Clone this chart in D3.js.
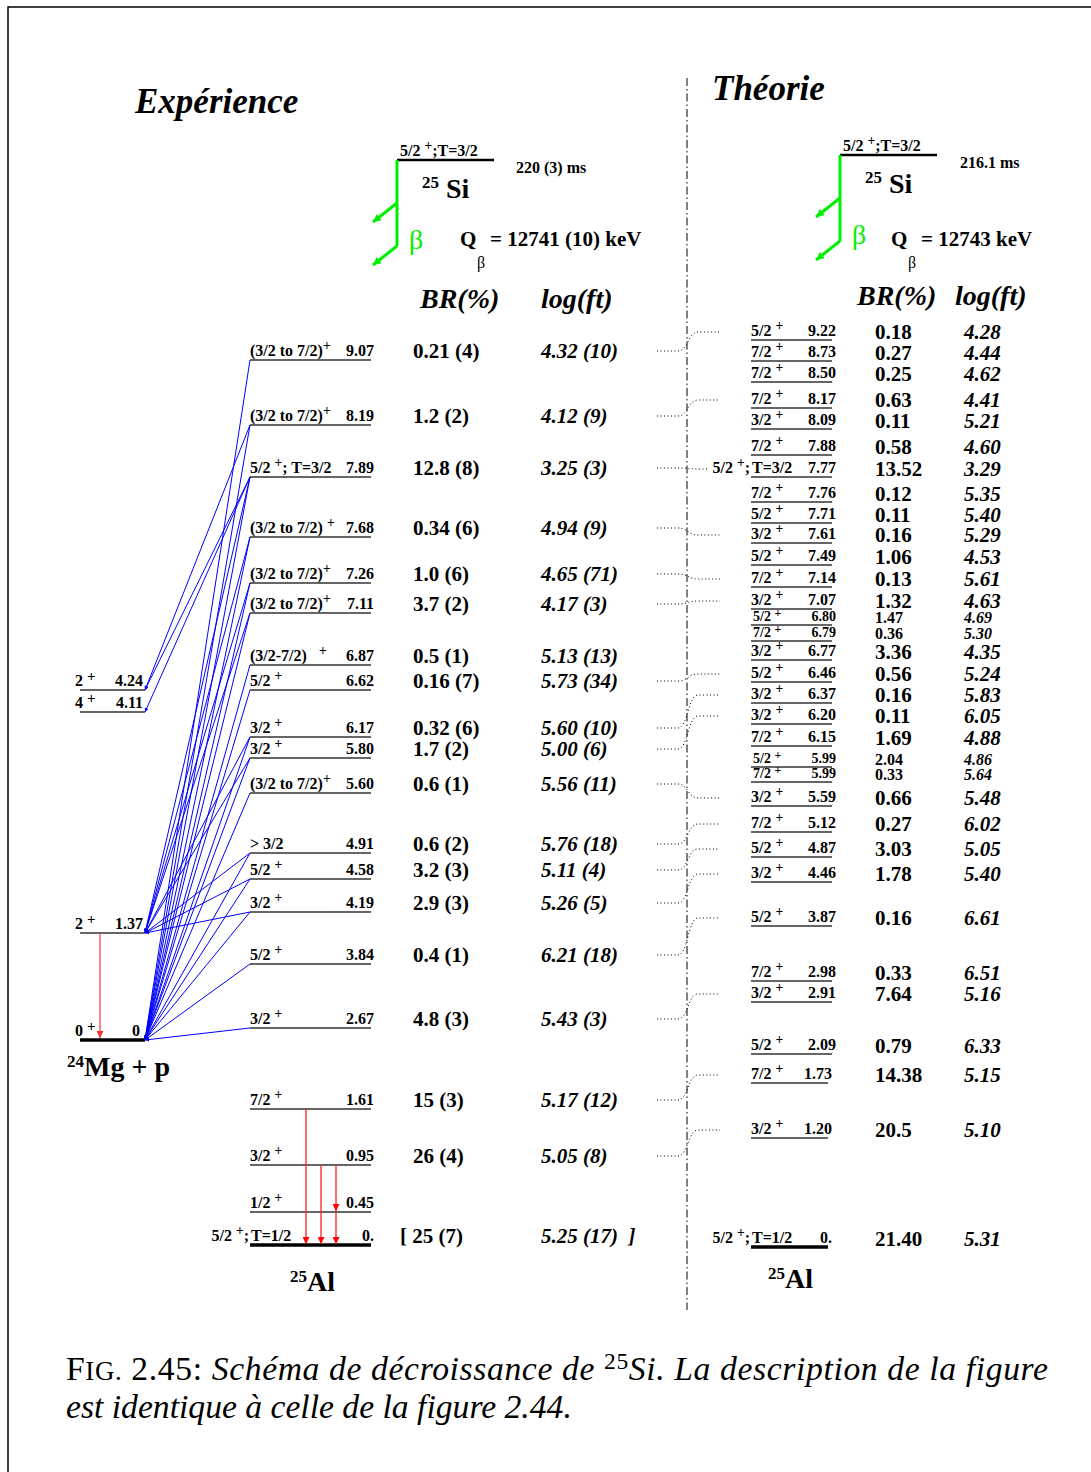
<!DOCTYPE html>
<html>
<head>
<meta charset="utf-8">
<script src="https://cdn.jsdelivr.net/npm/d3@7"></script>
<style>
  body { margin: 0; background: #fff; }
  svg text { font-family: "Liberation Serif", "Times New Roman", serif; white-space: pre; }
</style>
</head>
<body>
<svg id="chart" width="1091" height="1472"></svg>
<script>
// 25Al levels fed in the beta decay of 25Si (experiment)
const expE = [9.07, 8.19, 7.89, 7.68, 7.26, 7.11, 6.87, 6.62, 6.17, 5.80, 5.60, 4.91, 4.58, 4.19, 3.84, 2.67, 1.61, 0.95, 0.45, 0];
const expJ = ["(3/2 to 7/2)^+", "(3/2 to 7/2)^+", "5/2 ^+; T=3/2", "(3/2 to 7/2) ^+", "(3/2 to 7/2)^+", "(3/2 to 7/2)^+",
  "(3/2-7/2)   ^+", "5/2 ^+", "3/2 ^+", "3/2 ^+", "(3/2 to 7/2)^+", "> 3/2", "5/2 ^+", "3/2 ^+", "5/2 ^+", "3/2 ^+",
  "7/2 ^+", "3/2 ^+", "1/2 ^+", "5/2 ^+;T=1/2"];
const expBR = ["0.21 (4)", "1.2 (2)", "12.8 (8)", "0.34 (6)", "1.0 (6)", "3.7 (2)", "0.5 (1)", "0.16 (7)", "0.32 (6)",
  "1.7 (2)", "0.6 (1)", "0.6 (2)", "3.2 (3)", "2.9 (3)", "0.4 (1)", "4.8 (3)", "15 (3)", "26 (4)", "", "[ 25 (7)"];
const expLogft = ["4.32 (10)", "4.12 (9)", "3.25 (3)", "4.94 (9)", "4.65 (71)", "4.17 (3)", "5.13 (13)", "5.73 (34)",
  "5.60 (10)", "5.00 (6)", "5.56 (11)", "5.76 (18)", "5.11 (4)", "5.26 (5)", "6.21 (18)", "5.43 (3)", "5.17 (12)",
  "5.05 (8)", "", "5.25 (17)  ]"];
// the scheme is not to scale: row where each level line is drawn
const expRowY = [360, 425, 477, 537, 583, 613, 665, 690, 737, 758, 793, 853, 879, 912, 964, 1028, 1109, 1165, 1212, 1245];

// 24Mg + p final states
const mgE = [4.24, 4.11, 1.37, 0];
const mgJ = ["2 ^+", "4 ^+", "2 ^+", "0 ^+"];
const mgRowY = [690, 712, 933, 1040];

// proton branches [25Al level, 24Mg level]
const protons = [
  [9.07, 0], [8.19, 4.24], [8.19, 0], [7.89, 4.24], [7.89, 4.11], [7.89, 1.37], [7.89, 0],
  [7.68, 1.37], [7.68, 0], [7.26, 1.37], [7.26, 0], [7.11, 1.37], [7.11, 0], [6.87, 0], [6.62, 0],
  [6.17, 1.37], [6.17, 0], [5.80, 1.37], [5.80, 0], [5.60, 0], [4.91, 1.37], [4.91, 0],
  [4.58, 1.37], [4.58, 0], [4.19, 1.37], [4.19, 0], [3.84, 0], [2.67, 0]
];
// gamma cascades (each entry is one lane)
const alGammas = [[1.61, 0], [0.95, 0], [0.95, 0.45, 0]];
const mgGammas = [[1.37, 0]];

// shell-model levels (theory)
const thE = [9.22, 8.73, 8.50, 8.17, 8.09, 7.88, 7.77, 7.76, 7.71, 7.61, 7.49, 7.14, 7.07, 6.80, 6.79, 6.77, 6.46,
  6.37, 6.20, 6.15, 5.99, 5.99, 5.59, 5.12, 4.87, 4.46, 3.87, 2.98, 2.91, 2.09, 1.73, 1.20, 0];
const thJ = ["5/2 ^+", "7/2 ^+", "7/2 ^+", "7/2 ^+", "3/2 ^+", "7/2 ^+", "5/2 ^+;T=3/2", "7/2 ^+", "5/2 ^+", "3/2 ^+",
  "5/2 ^+", "7/2 ^+", "3/2 ^+", "5/2 ^+", "7/2 ^+", "3/2 ^+", "5/2 ^+", "3/2 ^+", "3/2 ^+", "7/2 ^+", "5/2 ^+",
  "7/2 ^+", "3/2 ^+", "7/2 ^+", "5/2 ^+", "3/2 ^+", "5/2 ^+", "7/2 ^+", "3/2 ^+", "5/2 ^+", "7/2 ^+", "3/2 ^+",
  "5/2 ^+;T=1/2"];
const thBR = ["0.18", "0.27", "0.25", "0.63", "0.11", "0.58", "13.52", "0.12", "0.11", "0.16", "1.06", "0.13", "1.32",
  "1.47", "0.36", "3.36", "0.56", "0.16", "0.11", "1.69", "2.04", "0.33", "0.66", "0.27", "3.03", "1.78", "0.16",
  "0.33", "7.64", "0.79", "14.38", "20.5", "21.40"];
const thLogft = ["4.28", "4.44", "4.62", "4.41", "5.21", "4.60", "3.29", "5.35", "5.40", "5.29", "4.53", "5.61", "4.63",
  "4.69", "5.30", "4.35", "5.24", "5.83", "6.05", "4.88", "4.86", "5.64", "5.48", "6.02", "5.05", "5.40", "6.61",
  "6.51", "5.16", "6.33", "5.15", "5.10", "5.31"];
const thRowY = [340, 361, 382, 408, 429, 455, 477, 502, 523, 543, 565, 587, 609, 625, 641, 660, 682, 703, 724, 746,
  767, 782, 806, 832, 857, 882, 926, 981, 1002, 1054, 1083, 1138, 1247];
// crowded doublets printed in a smaller type
const thCrowded = [6.80, 6.79, 5.99];

// experiment level <-> theory level
const pairs = [[9.07, 9.22], [8.19, 8.17], [7.89, 7.77], [7.68, 7.61], [7.26, 7.14], [7.11, 7.07], [6.62, 6.46],
  [6.17, 6.37], [5.80, 6.20], [5.60, 5.59], [4.91, 5.12], [4.58, 4.87], [4.19, 4.46], [3.84, 3.87], [2.67, 2.91],
  [1.61, 1.73], [0.95, 1.20]];

const parentExp = { jp: "5/2 ^+;T=3/2", half: "220 (3) ms", q: "= 12741 (10) keV" };
const parentTh = { jp: "5/2 ^+;T=3/2", half: "216.1 ms", q: "= 12743 keV" };

// ---------------------------------------------------------------
const svg = d3.select("#chart");
const defs = svg.append("defs");

function marker(id, color, len, wid) {
  defs.append("marker")
    .attr("id", id)
    .attr("viewBox", "0 0 10 10")
    .attr("refX", 10).attr("refY", 5)
    .attr("markerUnits", "userSpaceOnUse")
    .attr("markerWidth", len).attr("markerHeight", wid)
    .attr("orient", "auto")
    .append("path").attr("d", "M0,0L10,5L0,10z").attr("fill", color);
}
marker("blueHead", "#0000ff", 5, 4);
marker("redHead", "#ff0000", 11, 7);
marker("pinkHead", "#ff3030", 11, 7);
marker("greenHead", "#00ee00", 12, 8);

// text with "^x" superscripts (consecutive ones form one group)
function rich(sel, str, supShift = 6, supSize = "0.85em") {
  const parts = str.split(/\^(\S)/);
  let up = false;
  parts.forEach((p, i) => {
    if (!p) return;
    const sup = i % 2 === 1;
    const t = sel.append("tspan").text(p);
    if (sup) {
      t.attr("font-size", supSize);
      if (!up) t.attr("dy", -supShift);
      up = true;
    } else if (up) { t.attr("dy", supShift); up = false; }
  });
  return sel;
}

function label(x, y, str, size, opts = {}) {
  const t = svg.append("text")
    .attr("x", x).attr("y", y)
    .attr("font-size", size)
    .attr("font-weight", opts.weight || "bold")
    .attr("font-style", opts.italic ? "italic" : null)
    .attr("text-anchor", opts.anchor || "start")
    .attr("fill", opts.fill || "#000");
  return rich(t, str, opts.sup || 6, opts.supSize);
}

const fmtE = e => e === 0 ? "0." : d3.format(".2f")(e);

// frame
svg.append("path").attr("d", "M8,1472V7H1091").attr("fill", "none").attr("stroke", "#000").attr("stroke-width", 1.5);

// titles
label(135, 113, "Expérience", 35, { italic: true });
label(712, 100, "Théorie", 35, { italic: true });

// separation between experiment and theory
svg.append("line")
  .attr("x1", 687).attr("x2", 687).attr("y1", 78).attr("y2", 1310)
  .attr("stroke", "#000").attr("stroke-width", 1)
  .attr("stroke-dasharray", "8,3,1.5,3");

// parent 25Si and beta arrows
function parent(p, x0, lineY, xs) {
  svg.append("line").attr("x1", x0).attr("x2", x0 + 97).attr("y1", lineY).attr("y2", lineY)
    .attr("stroke", "#000").attr("stroke-width", 2.5);
  label(x0 + 3, lineY - 4, p.jp, 16);
  label(xs.half, lineY + 13, p.half, 16);
  const si = svg.append("text").attr("x", x0 + 25).attr("y", lineY + 38).attr("font-weight", "bold").attr("font-size", 28);
  si.append("tspan").attr("font-size", 17).attr("dy", -10).text("25");
  si.append("tspan").attr("dy", 10).text(" Si");
  const b1 = lineY + 43, b2 = lineY + 86;
  svg.append("line").attr("x1", x0).attr("x2", x0).attr("y1", lineY).attr("y2", b2)
    .attr("stroke", "#00ee00").attr("stroke-width", 3);
  [b1, b2].forEach(b => {
    svg.append("line").attr("x1", x0).attr("y1", b).attr("x2", x0 - 24).attr("y2", b + 19)
      .attr("stroke", "#00ee00").attr("stroke-width", 3).attr("marker-end", "url(#greenHead)");
  });
  svg.append("text").attr("x", x0 + 12).attr("y", lineY + 89).attr("font-size", 28)
    .attr("fill", "#00ee00").text("β");
  svg.append("text").attr("x", xs.q).attr("y", 246).attr("font-size", 21).attr("font-weight", "bold").text("Q");
  svg.append("text").attr("x", xs.q + 17).attr("y", 268).attr("font-size", 16).text("β");
  svg.append("text").attr("x", xs.q + 30).attr("y", 246).attr("font-size", 21).attr("font-weight", "bold").text(p.q);
}
parent(parentExp, 397, 160, { half: 516, q: 460 });
parent(parentTh, 840, 155, { half: 960, q: 891 });

// column headers
[[420, 308, "BR(%)"], [541, 308, "log(ft)"], [857, 305, "BR(%)"], [955, 305, "log(ft)"]]
  .forEach(([x, y, s]) => label(x, y, s, 28, { italic: true }));

// ---- experimental 25Al levels ----
const xExp = d3.scaleLinear().domain([0, 1]).range([250, 371]);
const yExp = i => expRowY[i];

expE.forEach((e, i) => {
  const y = yExp(i), ground = e === 0;
  svg.append("line").attr("x1", xExp(0)).attr("x2", xExp(1)).attr("y1", y).attr("y2", y)
    .attr("stroke", ground ? "#000" : "#333").attr("stroke-width", ground ? 3.5 : 1.5);
  const jp = expJ[i];
  if (jp.includes(";T=")) {
    const k = jp.indexOf(";T=") + 1;
    label(xExp(0) - 1, y - 4, jp.slice(0, k), 16, { anchor: "end" });
    label(xExp(0) + 1, y - 4, jp.slice(k), 16);
  } else {
    label(xExp(0), y - 4, jp, 16);
  }
  label(xExp(1) + 3, y - 4, fmtE(e), 16, { anchor: "end" });
  const br = expBR[i];
  if (br.startsWith("[")) label(400, y - 2, br, 21);
  else if (br) label(413, y - 2, br, 21);
  if (expLogft[i]) label(541, y - 2, expLogft[i], 21, { italic: true });
});

label(290, 1291, "^2^5Al", 28, { sup: 9, supSize: 17 });

// ---- 24Mg + p ----
const xMg = d3.scaleLinear().domain([0, 1]).range([80, 145]);
const yMg = e => mgRowY[mgE.indexOf(e)];
mgE.forEach((e, i) => {
  const y = mgRowY[i], ground = e === 0;
  svg.append("line").attr("x1", xMg(0)).attr("x2", xMg(1)).attr("y1", y).attr("y2", y)
    .attr("stroke", ground ? "#000" : "#333").attr("stroke-width", ground ? 3.5 : 1.5);
  label(75, y - 4, mgJ[i], 16, { sup: 5, supSize: 15 });
  label(xMg(1) - (ground ? 5 : 2), y - 4, ground ? "0" : fmtE(e), 16, { anchor: "end" });
});
label(67, 1076, "^2^4Mg + p", 28, { sup: 9, supSize: 17 });

// proton branches
svg.append("g").selectAll("line").data(protons).join("line")
  .attr("x1", xExp(0)).attr("y1", d => yExp(expE.indexOf(d[0])))
  .attr("x2", xMg(1)).attr("y2", d => yMg(d[1]))
  .attr("stroke", "#0000ff").attr("stroke-width", 1)
  .attr("marker-end", "url(#blueHead)");

// gammas
const laneAl = d3.scalePoint().domain(d3.range(alGammas.length)).range([306, 336]);
alGammas.forEach((chain, k) => {
  d3.pairs(chain).forEach(([a, b]) => {
    svg.append("line").attr("x1", laneAl(k)).attr("x2", laneAl(k))
      .attr("y1", yExp(expE.indexOf(a))).attr("y2", yExp(expE.indexOf(b)) - 1)
      .attr("stroke", "#ff2020").attr("stroke-width", 1.3).attr("marker-end", "url(#redHead)");
  });
});
mgGammas.forEach(chain => {
  d3.pairs(chain).forEach(([a, b]) => {
    svg.append("line").attr("x1", 100).attr("x2", 100)
      .attr("y1", yMg(a)).attr("y2", yMg(b) - 2)
      .attr("stroke", "#ff4040").attr("stroke-width", 1.3).attr("marker-end", "url(#pinkHead)");
  });
});

// ---- theory levels ----
const xTh = d3.scaleLinear().domain([0, 1]).range([751, 832]);
const labelStart = {};
thE.forEach((e, i) => {
  const y = thRowY[i], ground = e === 0;
  const small = thCrowded.includes(e);
  const x1 = ground || e < 1.8 ? xTh(0.95) : xTh(1);
  svg.append("line").attr("x1", xTh(0)).attr("x2", x1).attr("y1", y).attr("y2", y)
    .attr("stroke", ground ? "#000" : "#333").attr("stroke-width", ground ? 3.5 : 1.5);
  const jp = thJ[i];
  const fs = small ? 14 : 16;
  if (jp.includes(";T=")) {
    const k = jp.indexOf(";T=") + 1;
    const t = label(xTh(0) - 1, y - 4, jp.slice(0, k), 16, { anchor: "end" });
    label(xTh(0) + 1, y - 4, jp.slice(k), 16);
    labelStart[i] = t.node().getBBox().x;
  } else {
    label(xTh(0) + (small ? 2 : 0), y - 4, jp, fs, { sup: small ? 4 : 6 });
  }
  label(x1 + 4, y - 4, fmtE(e), fs, { anchor: "end" });
  label(875, y - (small ? 2 : 1), thBR[i], small ? 16 : 21);
  label(964, y - (small ? 2 : 1), thLogft[i], small ? 16 : 21, { italic: true });
});
label(768, 1288, "^2^5Al", 28, { sup: 9, supSize: 17 });

// ---- correspondence experiment <-> theory ----
svg.append("g").selectAll("path").data(pairs).join("path")
  .attr("d", ([ee, te]) => {
    const i = expE.indexOf(ee), j = thE.indexOf(te);
    const yl = yExp(i) - 9, yr = thRowY[j] - 8;
    const xEnd = labelStart[j] !== undefined ? labelStart[j] - 5 : 720;
    const p = d3.path();
    p.moveTo(657, yl); p.lineTo(678, yl);
    p.bezierCurveTo(688, yl, 688, yr, 698, yr);
    p.lineTo(xEnd, yr);
    return p.toString();
  })
  .attr("fill", "none").attr("stroke", "#000").attr("stroke-width", 1)
  .attr("stroke-dasharray", "1,2.5");

// ---- caption ----
const capSize = 28;
const cap2 = svg.append("text").attr("x", 66).attr("y", 1418).attr("font-size", capSize)
  .attr("font-style", "italic").text("est identique à celle de la figure 2.44.");
const fit = capSize * 506 / cap2.node().getComputedTextLength();
cap2.attr("font-size", fit);
const cap1 = svg.append("text").attr("x", 66).attr("y", 1380).attr("font-size", fit)
  .attr("textLength", 982).attr("lengthAdjust", "spacing");
cap1.append("tspan").text("F");
cap1.append("tspan").attr("font-size", fit * 0.8).text("IG.");
cap1.append("tspan").text(" 2.45: ");
cap1.append("tspan").attr("font-style", "italic").text("Schéma de décroissance de ");
cap1.append("tspan").attr("font-size", fit * 0.7).attr("dy", -11).text("25");
cap1.append("tspan").attr("dy", 11).attr("font-style", "italic").text("Si. La description de la figure");
</script>
</body>
</html>
